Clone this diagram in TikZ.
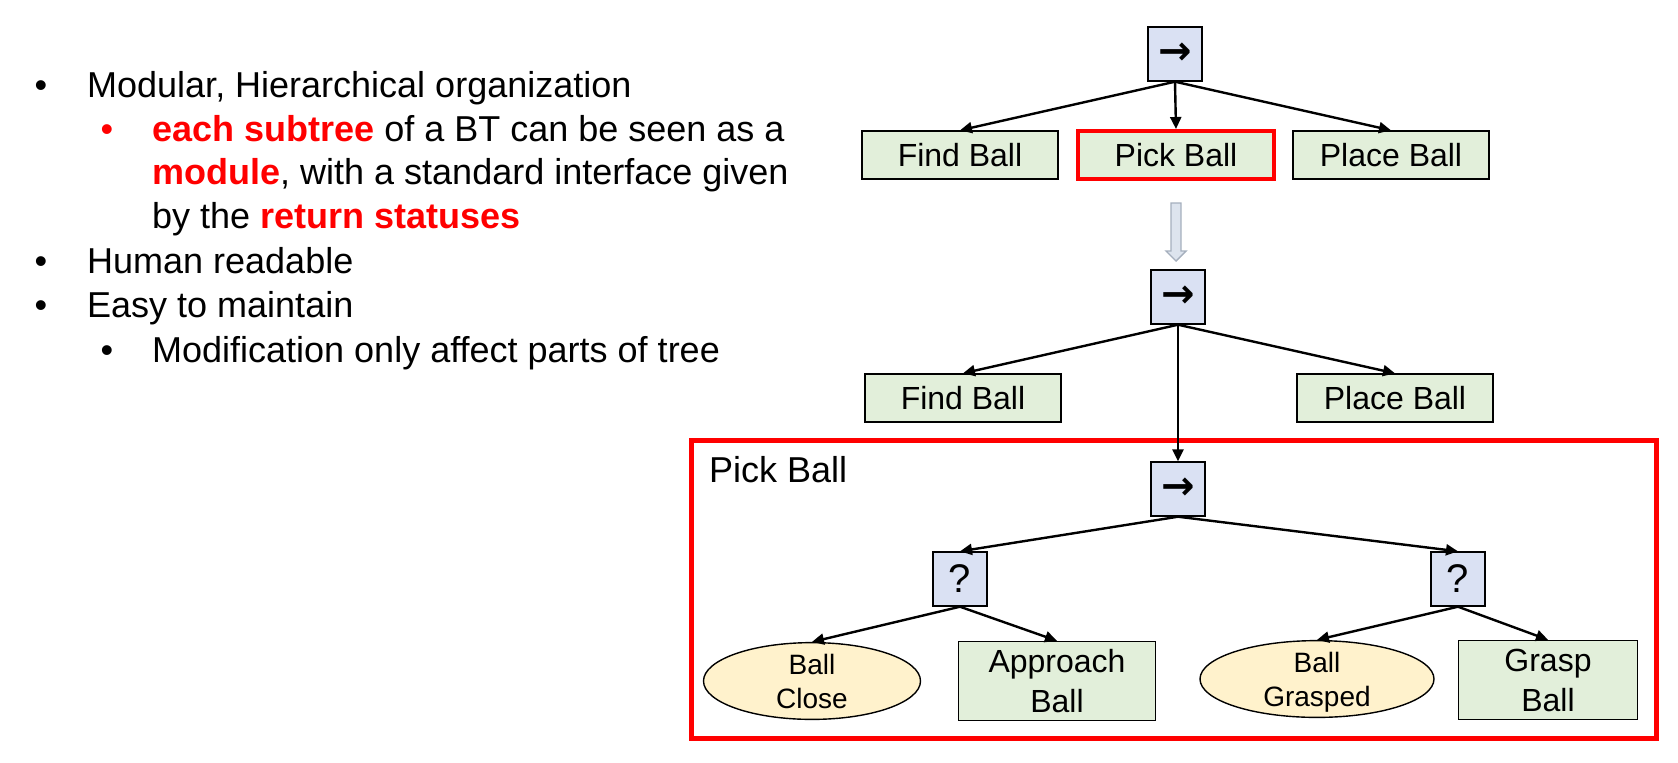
\documentclass[tikz,border=0pt]{standalone}
\usepackage{fontspec}
\setmainfont{Liberation Sans}
\newfontfamily\arrowfont{DejaVu Sans}
\usetikzlibrary{arrows.meta,shapes.geometric}
\definecolor{actgreen}{HTML}{E2EFDA}
\definecolor{ctrlblue}{HTML}{DAE1F3}
\definecolor{condyellow}{HTML}{FFF2CC}
\definecolor{hollowfill}{HTML}{DDE4EE}
\definecolor{hollowline}{HTML}{A5AFBD}
\newcommand{\redbold}[1]{\textbf{\color{red}#1}}
\newcommand{\seqsign}{{\arrowfont\bfseries →}}

\begin{document}
\begin{tikzpicture}[x=50pt, y=50pt,
		>={Triangle[length=6pt,width=5.5pt]},
		line width=1.2pt,
		ctrl/.style={draw, line width=0.7pt, fill=ctrlblue, minimum width=27pt, minimum height=27pt, inner sep=1pt, font=\fontsize{20}{24}\selectfont},
		act/.style={draw, line width=0.7pt, fill=actgreen, minimum width=98pt, minimum height=24pt, inner sep=2pt, font=\fontsize{16}{20}\selectfont, align=center},
		cond/.style={ellipse, draw, line width=0.7pt, fill=condyellow, minimum height=38pt, inner sep=0pt, text depth=0pt, font=\fontsize{14}{17}\selectfont, align=center},
		item/.style={anchor=base west, inner sep=0pt, font=\fontsize{18}{22}\selectfont},
		dot/.style={anchor=base, inner sep=0pt, font=\fontsize{18}{22}\selectfont}]
	\useasboundingbox (0, 0) rectangle (16.78, -7.62);

	% bullet list
	\draw (0.41, -0.97) node [dot] (d1) {•};
	\draw (0.86, -0.97) node [item] (t1) {Modular, Hierarchical organization};
	\draw (1.07, -1.41) node [dot, text=red] (d2) {•};
	\draw (1.51, -1.41) node [item] (t2) {\redbold{each subtree} of a BT can be seen as a};
	\draw (1.51, -1.84) node [item] (t3) {\redbold{module}, with a standard interface given};
	\draw (1.51, -2.28) node [item] (t4) {by the \redbold{return statuses}};
	\draw (0.41, -2.73) node [dot] (d3) {•};
	\draw (0.86, -2.73) node [item] (t5) {Human readable};
	\draw (0.41, -3.17) node [dot] (d4) {•};
	\draw (0.86, -3.17) node [item] (t6) {Easy to maintain};
	\draw (1.07, -3.62) node [dot] (d5) {•};
	\draw (1.51, -3.62) node [item] (t7) {Modification only affect parts of tree};

	% tree before
	\draw (11.75, -0.54) node [ctrl] (seqA) {\seqsign};
	\draw (9.60, -1.55) node [act] (findA) {Find Ball};
	\draw (11.76, -1.55) node [act, draw=red, line width=2pt] (pickA) {Pick Ball};
	\draw (13.91, -1.55) node [act] (placeA) {Place Ball};
	\path [->] (seqA.south) edge (findA.north);
	\path [->] (seqA.south) edge (pickA.north);
	\path [->] (seqA.south) edge (placeA.north);

	% hollow arrow
	\draw [line width=0.7pt, draw=hollowline, fill=hollowfill] (11.71, -2.03) -- (11.81, -2.03) -- (11.81, -2.51) -- (11.86, -2.51) -- (11.76, -2.61) -- (11.66, -2.51) -- (11.71, -2.51) -- cycle;

	% tree after
	\draw (11.78, -2.97) node [ctrl] (seqB) {\seqsign};
	\draw (9.63, -3.98) node [act] (findB) {Find Ball};
	\draw (13.95, -3.98) node [act] (placeB) {Place Ball};
	\draw [red, line width=2.5pt] (6.91, -4.40) rectangle (16.56, -7.38);
	\draw (7.08, -4.82) node [item] (sub) {Pick Ball};
	\draw (11.78, -4.89) node [ctrl] (seqC) {\seqsign};
	\draw (9.60, -5.79) node [ctrl] (selA) {?};
	\draw (14.58, -5.79) node [ctrl] (selB) {?};
	\draw (8.12, -6.81) node [cond, minimum width=108.5pt] (close) {Ball\\Close};
	\draw (10.57, -6.81) node [act, minimum width=98.5pt, minimum height=39.5pt] (approach) {Approach\\Ball};
	\draw (13.17, -6.79) node [cond, minimum width=117pt] (grasped) {Ball\\Grasped};
	\draw (15.48, -6.80) node [act, minimum width=89.5pt, minimum height=39.5pt] (grasp) {Grasp\\Ball};
	\path [->] (seqB.south) edge (findB.north);
	\path [->] (seqB.south) edge (placeB.north);
	\path [->] (seqB.south) edge (seqC.north);
	\path [->] (seqC.south) edge (selA.north);
	\path [->] (seqC.south) edge (selB.north);
	\path [->] (selA.south) edge (close.north);
	\path [->] (selA.south) edge (approach.north);
	\path [->] (selB.south) edge (grasped.north);
	\path [->] (selB.south) edge (grasp.north);
\end{tikzpicture}
\end{document}
